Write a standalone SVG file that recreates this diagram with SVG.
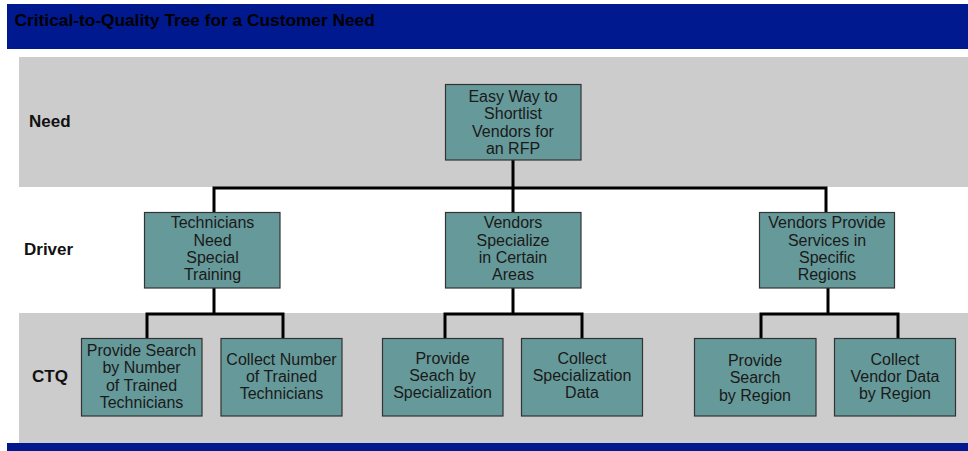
<svg xmlns="http://www.w3.org/2000/svg" width="968" height="451" viewBox="0 0 968 451">
  <style>
    .bar { fill: #00198f; }
    .band { fill: #cccccc; }
    .title { font-family: "Liberation Sans", Arial, sans-serif; font-size: 17.3px; font-weight: bold; fill: #000; }
    .level { font-family: "Liberation Sans", Arial, sans-serif; font-size: 17px; font-weight: bold; fill: #111; }
    .box { fill: #669999; stroke: #333; stroke-width: 1.2; }
    .lbl { font-family: "Liberation Sans", Arial, sans-serif; font-size: 16px; fill: #1a1a1a; text-anchor: middle; }
    .conn { fill: none; stroke: #000; stroke-width: 3; stroke-linejoin: miter; stroke-linecap: square; }
  </style>

  <!-- page background -->
  <rect x="0" y="0" width="968" height="451" fill="#ffffff"/>

  <!-- header bar -->
  <rect class="bar" x="7" y="4" width="961" height="45"/>
  <text class="title" x="14.6" y="25.5">Critical-to-Quality Tree for a Customer Need</text>

  <!-- level bands -->
  <rect class="band" x="19" y="57" width="949" height="130"/>
  <rect class="band" x="19" y="313" width="949" height="130"/>

  <!-- footer bar -->
  <rect class="bar" x="7" y="443" width="961" height="8"/>

  <!-- level labels -->
  <text class="level" x="29" y="127">Need</text>
  <text class="level" x="24" y="255">Driver</text>
  <text class="level" x="32" y="382">CTQ</text>

  <!-- connectors -->
  <g id="connectors">
    <path class="conn" d="M513 160 V188 M214 212 V188 H826 V212 M513 188 V212"/>
    <path class="conn" d="M214 288 V314 M147 338 V314 H283 V338"/>
    <path class="conn" d="M513 288 V314 M445 338 V314 H582 V338"/>
    <path class="conn" d="M828 288 V314 M761 338 V314 H898 V338"/>
  </g>

  <!-- need -->
  <g id="need">
    <rect class="box" x="445.5" y="84.5" width="135.5" height="75.5"/>
    <text class="lbl" x="513" y="101.7">Easy Way to</text>
    <text class="lbl" x="513" y="119">Shortlist</text>
    <text class="lbl" x="513" y="136.5">Vendors for</text>
    <text class="lbl" x="513" y="153.7">an RFP</text>
  </g>

  <!-- drivers -->
  <g id="driver-training">
    <rect class="box" x="144.5" y="212.5" width="135.5" height="75.5"/>
    <text class="lbl" x="212.5" y="228.3">Technicians</text>
    <text class="lbl" x="212.5" y="245.6">Need</text>
    <text class="lbl" x="212.5" y="262.9">Special</text>
    <text class="lbl" x="212.5" y="280.2">Training</text>
  </g>
  <g id="driver-specialize">
    <rect class="box" x="445.5" y="212.5" width="135.5" height="75.5"/>
    <text class="lbl" x="513" y="228.3">Vendors</text>
    <text class="lbl" x="513" y="245.6">Specialize</text>
    <text class="lbl" x="513" y="262.9">in Certain</text>
    <text class="lbl" x="513" y="280.2">Areas</text>
  </g>
  <g id="driver-regions">
    <rect class="box" x="759.5" y="212.5" width="135" height="75.5"/>
    <text class="lbl" x="827" y="228.3">Vendors Provide</text>
    <text class="lbl" x="827" y="245.6">Services in</text>
    <text class="lbl" x="827" y="262.9">Specific</text>
    <text class="lbl" x="827" y="280.2">Regions</text>
  </g>

  <!-- CTQs -->
  <g id="ctq-search-trained">
    <rect class="box" x="81.5" y="338.5" width="120.5" height="77.5"/>
    <text class="lbl" x="141.5" y="356">Provide Search</text>
    <text class="lbl" x="141.5" y="373.3">by Number</text>
    <text class="lbl" x="141.5" y="390.6">of Trained</text>
    <text class="lbl" x="141.5" y="407.9">Technicians</text>
  </g>
  <g id="ctq-collect-trained">
    <rect class="box" x="221" y="338.5" width="121" height="77.5"/>
    <text class="lbl" x="281.5" y="364.5">Collect Number</text>
    <text class="lbl" x="281.5" y="381.8">of Trained</text>
    <text class="lbl" x="281.5" y="399.1">Technicians</text>
  </g>
  <g id="ctq-search-specialization">
    <rect class="box" x="382.5" y="338.5" width="120.5" height="77.5"/>
    <text class="lbl" x="442.5" y="363.7">Provide</text>
    <text class="lbl" x="442.5" y="381">Seach by</text>
    <text class="lbl" x="442.5" y="398.3">Specialization</text>
  </g>
  <g id="ctq-collect-specialization">
    <rect class="box" x="521.5" y="338.5" width="121" height="77.5"/>
    <text class="lbl" x="582" y="363.7">Collect</text>
    <text class="lbl" x="582" y="381">Specialization</text>
    <text class="lbl" x="582" y="398.3">Data</text>
  </g>
  <g id="ctq-search-region">
    <rect class="box" x="694.5" y="338.5" width="121.5" height="77.5"/>
    <text class="lbl" x="755" y="366">Provide</text>
    <text class="lbl" x="755" y="383.3">Search</text>
    <text class="lbl" x="755" y="400.6">by Region</text>
  </g>
  <g id="ctq-collect-region">
    <rect class="box" x="834.5" y="338.5" width="121" height="77.5"/>
    <text class="lbl" x="895" y="364.5">Collect</text>
    <text class="lbl" x="895" y="381.8">Vendor Data</text>
    <text class="lbl" x="895" y="399.1">by Region</text>
  </g>
</svg>
